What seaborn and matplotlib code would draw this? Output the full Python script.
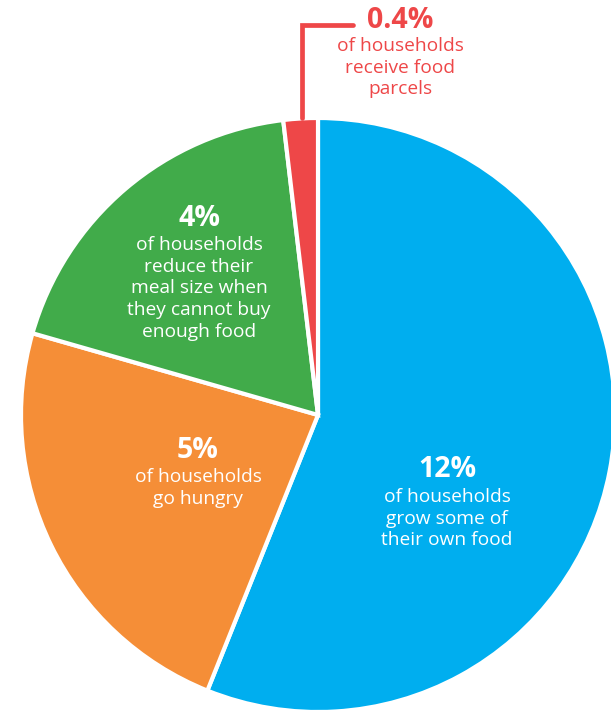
import matplotlib
matplotlib.use("Agg")
import matplotlib.pyplot as plt
import seaborn as sns

# Share of households (%)
labels = ["grow some of\ntheir own food", "go hungry",
          "reduce their\nmeal size when\nthey cannot buy\nenough food",
          "receive food\nparcels"]
values = [12, 5, 4, 0.4]
pct_text = ["12%", "5%", "4%", "0.4%"]
colors = ["#00AEEF", "#F58E37", "#41AB4A", "#EE4748"]

sns.set_style("white")
plt.rcParams["font.family"] = ["Open Sans", "DejaVu Sans"]

W, H = 611, 713
CX, CY, R = 318, 415, 297  # pie centre / radius in pixels
GAP = 21.7                 # line gap in pixels


def px(x, y):
    """pixel (from top-left) -> data coords"""
    return (x - CX) / R, (CY - y) / R


def label_block(x, y_pct, y_body, pct, body, color):
    ax.text(*px(x, y_pct), pct, color=color, fontsize=20.5,
            fontweight="bold", ha="center", va="center")
    for k, line in enumerate(("of households\n" + body).split("\n")):
        ax.text(*px(x, y_body + k * GAP), line, color=color, fontsize=13.8,
                ha="center", va="center")


fig = plt.figure(figsize=(W / 100, H / 100), dpi=100)
ax = fig.add_axes([0, 0, 1, 1])
ax.pie(values, colors=colors, startangle=90, counterclock=False,
       wedgeprops=dict(edgecolor="white", linewidth=3))
ax.set_xlim(-CX / R, (W - CX) / R)
ax.set_ylim(-(H - CY) / R, CY / R)
ax.set_aspect("equal")
ax.axis("off")

# labels inside slices
label_block(447, 470, 497, pct_text[0], labels[0], "white")
label_block(198, 451, 477, pct_text[1], labels[1], "white")
label_block(199, 219, 245, pct_text[2], labels[2], "white")

# small red slice: leader line + label outside
lx, ly = zip(px(302, 118), px(302, 25), px(353, 25))
ax.plot(lx, ly, color=colors[3], lw=3.4, solid_joinstyle="miter", clip_on=False)
label_block(400, 20, 46, pct_text[3], labels[3], colors[3])

fig.savefig("out.png", dpi=100)
